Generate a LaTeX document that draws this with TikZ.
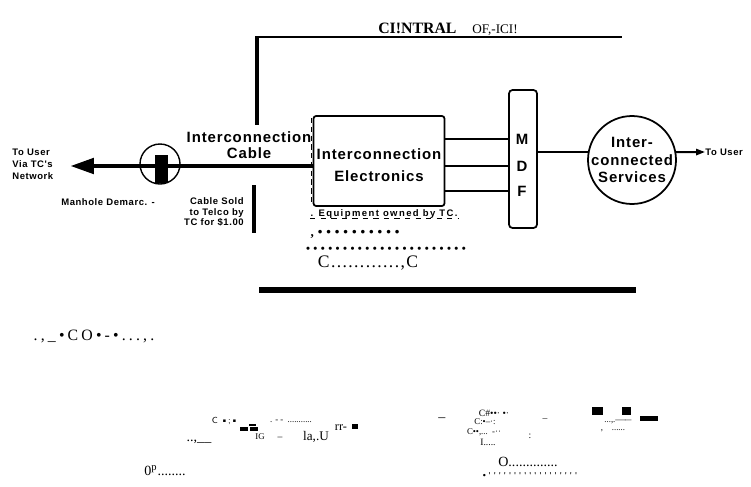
\documentclass[tikz,border=0pt]{standalone}
\usepackage{fontspec}
\setmainfont{Liberation Serif}
\newfontfamily\scanfont[LetterSpace=6]{Liberation Sans}
\newfontfamily\dotfont[LetterSpace=30]{Liberation Serif}
\usetikzlibrary{arrows.meta}

\begin{document}
\begin{tikzpicture}[x=0.02cm, y=-0.02cm,
  lbl/.style={font=\scanfont\bfseries\fontsize{8.5}{9.2}\selectfont, align=center, inner sep=0pt},
  boxlbl/.style={font=\scanfont\bfseries\fontsize{8.5}{12.5}\selectfont, align=center, inner sep=0pt},
  servlbl/.style={font=\scanfont\bfseries\fontsize{8.5}{10}\selectfont, align=center, inner sep=0pt},
  tinylbl/.style={font=\scanfont\bfseries\fontsize{5.4}{6.8}\selectfont, inner sep=0pt},
  ocr/.style={font=\fontsize{5.5}{6}\selectfont, inner sep=0pt},
  cable/.style={line width=2.8pt},
  wire/.style={line width=1.1pt},
  frame/.style={draw, line width=1pt}]
\useasboundingbox (0,0) rectangle (751,487);

% Central office outline
\node[inner sep=0pt, anchor=base] (co) at (448,33)
  {\fontsize{9}{9}\selectfont\textbf{CI!NTRAL}\quad\fontsize{7.5}{8}\selectfont OF,-ICI!};
\draw[line width=0.7pt] (257,37) -- (622,37);
\draw[line width=2.2pt] (257,36) -- (257,125);
\draw[line width=3pt] (259,290) -- (636,290);

% Boxes
\node[frame, rounded corners=1.5pt, minimum width=2.62cm, minimum height=1.8cm] (elec) at (379,161) {};
\node[boxlbl] (electxt) at (379,165) {Interconnection\\Electronics};
\node[frame, rounded corners=2pt, minimum width=0.56cm, minimum height=2.76cm] (mdf) at (523,159) {};
\node[lbl] (m) at (522,139) {M};
\node[lbl] (d) at (522,166) {D};
\node[lbl] (f) at (522,191) {F};
\node[frame, circle, minimum size=1.76cm, inner sep=0pt] (serv) at (632,160) {};
\node[servlbl] (servtxt) at (serv) {Inter-\\connected\\Services};

% Manhole and cable
\node[draw, circle, line width=0.8pt, minimum size=0.8cm, inner sep=0pt] (manhole) at (160,164) {};
\node[fill, inner sep=0pt, minimum width=0.26cm, minimum height=0.56cm] (plug) at (161,169) {};
\coordinate (tipL) at (70,166);
\draw[cable, -{Triangle[length=0.48cm, width=0.3cm]}] (elec.west |- tipL) -- (tipL);
\draw[line width=0.4pt, dash pattern=on 3pt off 2pt] (311,118) -- (311,205);

% Connections
\foreach \l in {m,d,f}
  \draw[wire] (elec.east |- \l) -- (mdf.west |- \l);
\draw[wire] (mdf.east |- serv.170) -- (serv.170);
\node[tinylbl, anchor=west] (userR) at (705,152) {To User};
\draw[wire, -{Triangle[length=5pt, width=3.5pt]}] (serv.10) -- (userR.west);

% Labels
\node[tinylbl, align=left, anchor=west] (userL) at (12,164) {To User\\Via TC's\\Network};
\node[lbl] (cablelbl) at (249,145) {Interconnection\\Cable};
\node[tinylbl] (demarc) at (108,202) {Manhole Demarc. -};
\node[tinylbl, align=right, anchor=east, font=\scanfont\bfseries\fontsize{5.4}{5.8}\selectfont] (sold) at (244,212)
  {Cable Sold\\to Telco by\\TC for \$1.00};
\draw[line width=2.2pt] (254,185) -- (254,233);
\node[tinylbl, font=\scanfont\bfseries\fontsize{5.4}{6}\selectfont\addfontfeature{LetterSpace=15}] (equip) at (384,214)
  {. Equipment owned by TC.};
\draw[dashed, line width=0.5pt] (equip.south west) -- (equip.south east);
\node[inner sep=0pt, font=\dotfont\bfseries\fontsize{7.5}{8}\selectfont] (dots1) at (355,234) {,••••••••••};
\node[inner sep=0pt, font=\dotfont\bfseries\fontsize{6.5}{7}\selectfont] (dots2) at (386,250) {••••••••••••••••••••••};
\node[inner sep=0pt, font=\fontsize{10}{10}\selectfont\addfontfeature{LetterSpace=8}] (dots3) at (368,263) {C............,C};

% Scanned remnants
\node[inner sep=0pt, font=\fontsize{9}{9}\selectfont\addfontfeature{LetterSpace=20}] (co2) at (94,336) {.,\_•CO•-•...,.};
\node[ocr, font=\fontsize{8}{8}\selectfont] (g1) at (199,442) {..,\_\_};
\node[ocr, font=\sffamily\fontsize{5}{5}\selectfont] (g2) at (225,421) {C •;•};
\fill (240,427) rectangle (248,431);
\fill (250,427) rectangle (258,431);
\fill (249,424) rectangle (256,426);
\node[ocr, font=\fontsize{5}{5}\selectfont] (g3) at (291,421) {. - -\ \ ...........};
\node[ocr, font=\fontsize{5}{5}\selectfont] (g4) at (260,437) {IG};
\node[ocr] (g5) at (280,437) {\_};
\node[ocr, font=\fontsize{7.5}{8}\selectfont] (g6) at (316,437) {la,.U};
\node[ocr, font=\fontsize{7}{7}\selectfont] (g7) at (341,428) {rr-};
\fill (352,424) rectangle (358,429);
\node[ocr, font=\fontsize{8}{8}\selectfont] (g8) at (165,471) {0\textsuperscript{p}........};
\node[ocr, font=\fontsize{8}{8}\selectfont] (h1) at (442,420) {--};
\node[ocr] (h2) at (494,413) {C\#••· •·};
\node[ocr] (h3) at (545,420) {--};
\node[ocr, font=\fontsize{5}{5}\selectfont] (h4) at (485,422) {C:•--·:};
\node[ocr, font=\fontsize{5}{5}\selectfont] (h5) at (484,432) {C••,...\ \ -··};
\node[ocr] (h6) at (488,442) {I.....};
\node[ocr] (h7) at (530,436) {:};
\fill (592,407) rectangle (603,415);
\fill (622,407) rectangle (631,415);
\fill (640,416) rectangle (658,421);
\node[ocr, font=\fontsize{5}{5}\selectfont] (h8) at (618,422) {...,.----–};
\node[ocr, font=\fontsize{5}{5}\selectfont] (h9) at (613,431) {,\quad ......};
\node[ocr, font=\fontsize{8}{8}\selectfont] (h10) at (528,462) {O..............};
\node[inner sep=0pt, font=\dotfont\bfseries\fontsize{5}{5}\selectfont] (h11) at (530,476) {•''''''''''''''''''};
\end{tikzpicture}
\end{document}
